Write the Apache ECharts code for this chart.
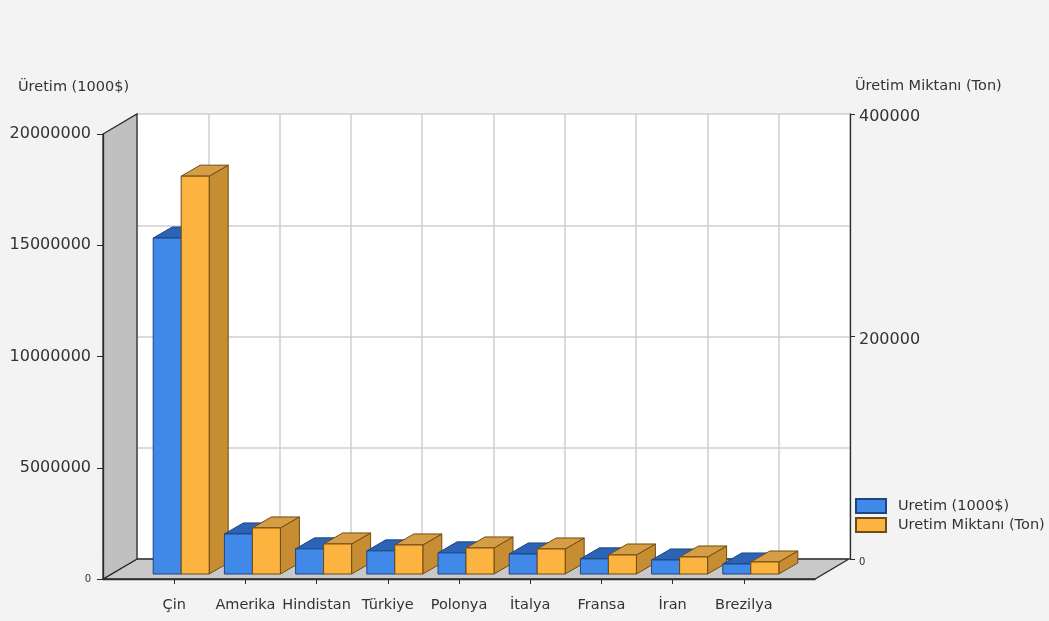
<!DOCTYPE html>
<html>
<head>
<meta charset="utf-8">
<script src="https://cdn.jsdelivr.net/npm/echarts@6/dist/echarts.min.js"></script>
<style>
html,body{margin:0;padding:0;background:#f3f3f3;}
#chart{width:1049px;height:621px;}
</style>
</head>
<body>
<div id="chart"></div>
<script>
// ---- data ----
const categories = ['Çin', 'Amerika', 'Hindistan', 'Türkiye', 'Polonya', 'İtalya', 'Fransa', 'İran', 'Brezilya'];
const uretimName = 'Uretim (1000$)';
const miktarName = 'Uretim Miktanı (Ton)';
const uretim = [15100000, 1800000, 1130000, 1040000, 950000, 900000, 680000, 630000, 450000];
const miktar = [357600, 41400, 27000, 26100, 23400, 22500, 17100, 15300, 10800];
const leftAxisTitle = 'Üretim (1000$)';
const rightAxisTitle = 'Üretim Miktanı (Ton)';
const leftMax = 20000000, leftStep = 5000000;
const rightMax = 400000, rightStep = 200000;

// ---- styling / geometry ----
const FONT = 'DejaVu Sans';
const BACK = [34, -20];       // depth of the box
const INSET = [7, -5];        // bar front plane offset
const BAR_DEPTH = [19, -11];
const BAR_W = 28;
const palettes = [
  { front: '#4189e8', top: '#2c63b6', side: '#2a5ea8', edge: '#1d4580' },
  { front: '#fdb33f', top: '#d59d45', side: '#c68d33', edge: '#6e4c12' }
];

const axisCats = [''].concat(categories, ['']);

function barRender(sIdx) {
  const pal = palettes[sIdx];
  return function (params, api) {
    const c = api.value(0);
    const v = api.value(1);
    const base = api.coord([c + 1, 0]);
    const top = api.coord([c + 1, v]);
    const x1 = base[0] + INSET[0] - BAR_W + sIdx * BAR_W;
    const x2 = x1 + BAR_W;
    const yb = base[1] + INSET[1];
    const yt = top[1] + INSET[1];
    const dx = BAR_DEPTH[0], dy = BAR_DEPTH[1];
    const z0 = c * 10 + sIdx * 4;
    const st = { stroke: pal.edge, lineWidth: 1 };
    return {
      type: 'group',
      children: [
        { type: 'polygon', z2: z0 + 1, shape: { points: [[x2, yt], [x2 + dx, yt + dy], [x2 + dx, yb + dy], [x2, yb]] },
          style: Object.assign({ fill: pal.side }, st) },
        { type: 'polygon', z2: z0 + 2, shape: { points: [[x1, yt], [x2, yt], [x2 + dx, yt + dy], [x1 + dx, yt + dy]] },
          style: Object.assign({ fill: pal.top }, st) },
        { type: 'rect', z2: z0 + 3, shape: { x: x1, y: yt, width: BAR_W, height: yb - yt },
          style: Object.assign({ fill: pal.front }, st) }
      ]
    };
  };
}

function boxRender(params, api) {
  const fl = api.coord([0, 0]);
  const fr = api.coord([axisCats.length - 1, 0]);
  const ft = api.coord([0, leftMax]);
  const b = p => [p[0] + BACK[0], p[1] + BACK[1]];
  const st = { stroke: '#2b2b2b', lineWidth: 1.3 };
  return {
    type: 'group',
    children: [
      { type: 'polygon', shape: { points: [fl, b(fl), b(fr), fr] }, style: Object.assign({ fill: '#c9c9c9' }, st) },
      { type: 'polygon', shape: { points: [ft, b(ft), b(fl), fl] }, style: Object.assign({ fill: '#c0c0c0' }, st) }
    ]
  };
}

const chart = echarts.init(document.getElementById('chart'), null, { renderer: 'canvas' });
const txt = { fontFamily: FONT, color: '#333333' };

chart.setOption({
  animation: false,
  backgroundColor: '#f3f3f3',
  textStyle: { fontFamily: FONT },
  title: [
    { text: leftAxisTitle, left: 18, top: 80, padding: 0, textStyle: Object.assign({ fontSize: 14.5, fontWeight: 'normal' }, txt) },
    { text: rightAxisTitle, left: 855, top: 79, padding: 0, textStyle: Object.assign({ fontSize: 14.5, fontWeight: 'normal' }, txt) }
  ],
  legend: {
    orient: 'vertical', left: 855, top: 498, padding: 0,
    itemWidth: 30, itemHeight: 14, itemGap: 3,
    textStyle: Object.assign({ fontSize: 14.5, padding: [0, 0, 0, 7] }, txt),
    data: [{ name: uretimName, icon: 'rect' }, { name: miktarName, icon: 'rect' }]
  },
  grid: [
    { left: 103, top: 134, width: 712, height: 445 },
    { left: 137, top: 114, width: 713, height: 445, show: true, backgroundColor: '#ffffff', borderWidth: 0 }
  ],
  xAxis: [
    {
      gridIndex: 0, type: 'category', data: axisCats, boundaryGap: false, z: 5,
      axisLine: { lineStyle: { color: '#2b2b2b', width: 1.3 } },
      axisTick: { length: 5, interval: (i) => i > 0 && i < axisCats.length - 1, lineStyle: { color: '#2b2b2b' } },
      axisLabel: Object.assign({ fontSize: 14.5, margin: 19, interval: 0 }, txt),
      splitLine: { show: false }
    },
    {
      gridIndex: 1, type: 'value', min: 0, max: axisCats.length - 1, interval: 1,
      axisLine: { show: false }, axisTick: { show: false }, axisLabel: { show: false },
      splitLine: { show: true, lineStyle: { color: '#cfcfcf', width: 1.5 } }
    }
  ],
  yAxis: [
    {
      gridIndex: 0, type: 'value', min: 0, max: leftMax, interval: leftStep, position: 'left', z: 5,
      axisLine: { show: true, lineStyle: { color: '#2b2b2b', width: 1.3 } },
      axisTick: { show: true, length: 6, lineStyle: { color: '#2b2b2b' } },
      axisLabel: Object.assign({ fontSize: 16, margin: 12,
        formatter: v => v === 0 ? '{s|0}' : String(v),
        rich: { s: { fontSize: 10, fontFamily: FONT, color: '#333333' } } }, txt),
      splitLine: { show: false }
    },
    {
      gridIndex: 0, type: 'value', min: 0, max: rightMax, position: 'right', show: false
    },
    {
      gridIndex: 1, type: 'value', min: 0, max: leftMax, interval: leftStep, position: 'left',
      axisLine: { show: false }, axisTick: { show: false }, axisLabel: { show: false },
      splitLine: { show: true, lineStyle: { color: '#cfcfcf', width: 1.5 } }
    },
    {
      gridIndex: 1, type: 'value', min: 0, max: rightMax, interval: rightStep, position: 'right', z: 5,
      axisLine: { show: true, lineStyle: { color: '#2b2b2b', width: 1.3 } },
      axisTick: { show: true, length: 5, lineStyle: { color: '#2b2b2b' } },
      axisLabel: Object.assign({ fontSize: 16, margin: 9, padding: [6, 0, 0, 0],
        formatter: v => v === 0 ? '{s|0}' : String(v),
        rich: { s: { fontSize: 10, fontFamily: FONT, color: '#333333' } } }, txt),
      splitLine: { show: false }
    }
  ],
  series: [
    {
      type: 'custom', name: '__box', xAxisIndex: 0, yAxisIndex: 0, z: 1, silent: true,
      renderItem: boxRender, data: [[0, 0]], encode: { x: 0, y: 1 }
    },
    {
      type: 'custom', name: uretimName, xAxisIndex: 0, yAxisIndex: 0, z: 2,
      itemStyle: { color: palettes[0].front, borderColor: palettes[0].edge, borderWidth: 1 },
      renderItem: barRender(0), encode: { x: 0, y: 1 },
      data: uretim.map((v, i) => [i, v])
    },
    {
      type: 'custom', name: miktarName, xAxisIndex: 0, yAxisIndex: 1, z: 2,
      itemStyle: { color: palettes[1].front, borderColor: palettes[1].edge, borderWidth: 1 },
      renderItem: barRender(1), encode: { x: 0, y: 1 },
      data: miktar.map((v, i) => [i, v])
    }
  ]
});
</script>
</body>
</html>
